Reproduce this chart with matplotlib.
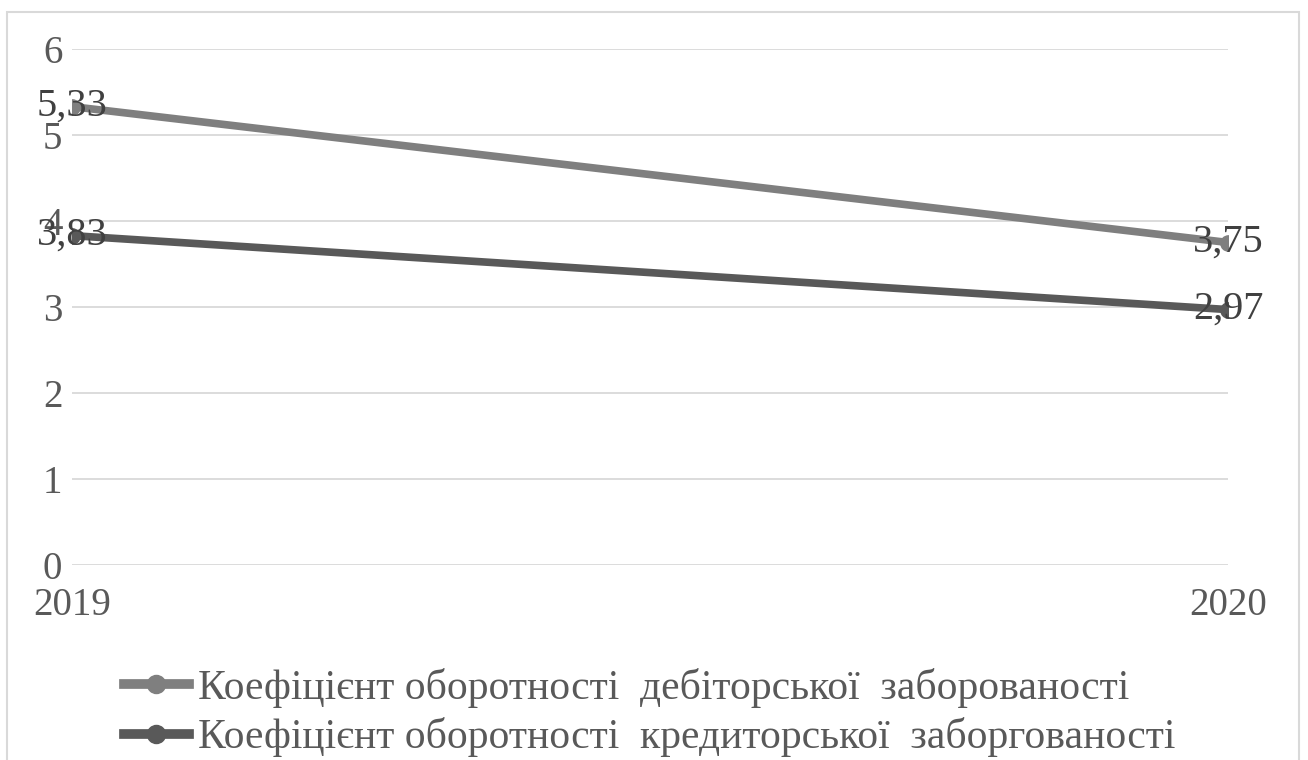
import matplotlib.pyplot as plt
from matplotlib.lines import Line2D
from matplotlib.patches import Rectangle

plt.rcParams['font.family'] = ['Liberation Serif', 'DejaVu Serif']

years = ['2019', '2020']
receivable_turnover = [5.33, 3.75]
payable_turnover = [3.83, 2.97]
series_names = ['Коефіцієнт оборотності  дебіторської  заборованості',
                'Коефіцієнт оборотності  кредиторської  заборгованості']
colors = ['#7f7f7f', '#595959']

fig = plt.figure(figsize=(13.08, 7.60), dpi=100)
ax = fig.add_axes([72 / 1308, 1 - 565 / 760, (1228 - 72) / 1308, (565 - 49) / 760])

x = range(len(years))
for vals, col in zip([receivable_turnover, payable_turnover], colors):
    ax.plot(x, vals, color=col, lw=5.5, marker='o', ms=11, solid_capstyle='butt', zorder=3)
    for xi, v in zip(x, vals):
        ax.text(xi, v, f'{v:.2f}'.replace('.', ','), ha='center', va='center',
                fontsize=29, color='#404040', zorder=4)

ax.set_xlim(0, 1)
ax.set_ylim(0, 6)
ax.set_yticks(range(7))
ax.set_xticks(list(x))
ax.set_xticklabels(years)
ax.tick_params(length=0, labelsize=28, labelcolor='#595959')
ax.tick_params(axis='y', pad=7)
ax.tick_params(axis='x', pad=16)
ax.grid(axis='y', color='#d9d9d9', lw=1.3)
ax.set_axisbelow(True)
for s in ax.spines.values():
    s.set_visible(False)

# chart frame
fig.patches.append(Rectangle((7 / 1308, -0.1), (1299 - 7) / 1308, 1.1 - 12 / 760,
                             transform=fig.transFigure, fill=False,
                             edgecolor='#d9d9d9', lw=1.5))

handles = [Line2D([], [], color=c, lw=7, marker='o', ms=13) for c in colors]
fig.legend(handles, series_names, loc='upper left', bbox_to_anchor=(124 / 1308, 1 - 668 / 760),
           frameon=False, fontsize=30, labelcolor='#595959', handlelength=1.55,
           handletextpad=0.22, labelspacing=0.22, borderpad=0, borderaxespad=0)

fig.savefig('out.png', dpi=100)
